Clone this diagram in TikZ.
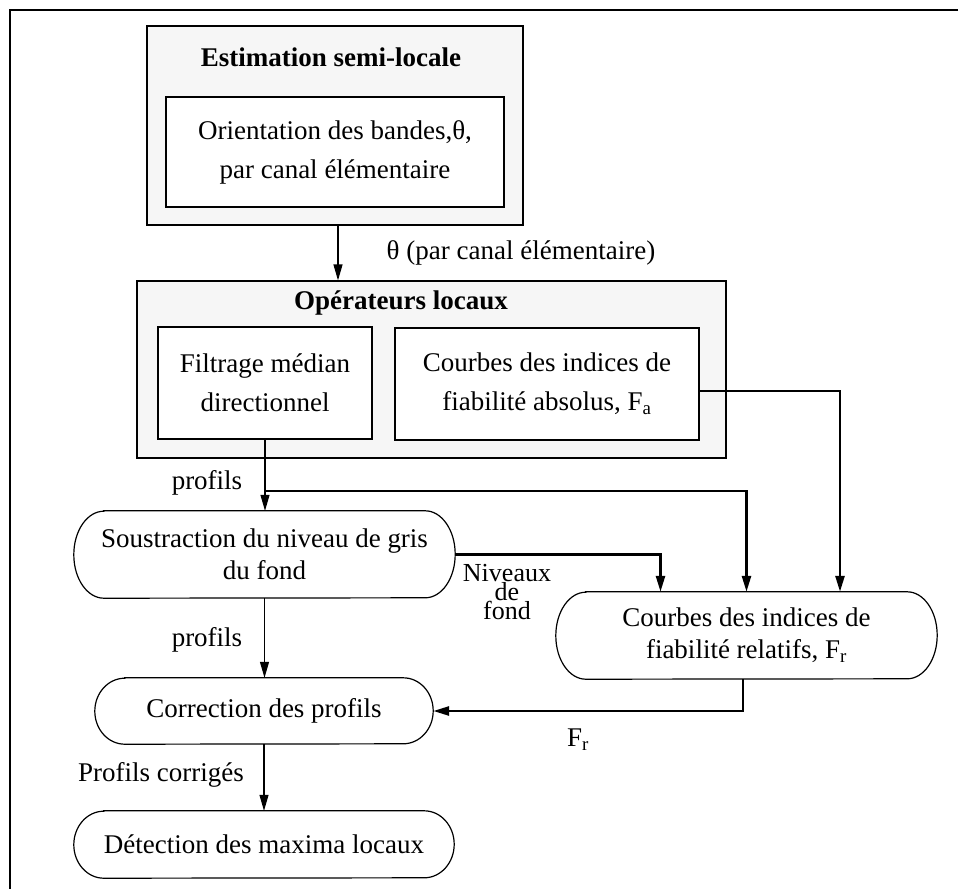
\documentclass[tikz,border=0pt]{standalone}
\usepackage{fontspec}
\setmainfont{Liberation Serif}
\usetikzlibrary{arrows.meta,calc}
\definecolor{boxgray}{RGB}{246,246,246}
\newcommand\stadiumoutline[3]{%
  \draw[line width=1.2pt] ([xshift=#2]#1.north west) -- ([xshift=-#2]#1.north east)
    arc[start angle=90,end angle=-90,x radius=#2,y radius=#3]
    -- ([xshift=#2]#1.south west)
    arc[start angle=-90,end angle=-270,x radius=#2,y radius=#3] -- cycle;}
\tikzset{
  outerbox/.style={draw, line width=1.2pt, fill=boxgray, inner sep=0pt},
  innerbox/.style={draw, line width=1.2pt, fill=white, inner sep=0pt,
    font=\fontsize{27}{39}\selectfont, align=center},
  stadiumnode/.style={inner sep=0pt, font=\fontsize{27}{32}\selectfont, align=center},
  titletext/.style={inner sep=0pt, font=\bfseries\fontsize{27}{39}\selectfont},
  lbl/.style={inner sep=0pt, font=\fontsize{27}{39}\selectfont},
  thinarrow/.style={line width=1.2pt, -{Triangle[length=16pt,width=9pt]}},
  thickarrow/.style={line width=2.6pt, -{Triangle[length=16pt,width=9pt]}},
  thickline/.style={line width=2.6pt},
  frameline/.style={line width=1.3pt},
}
\begin{document}
\begin{tikzpicture}[x=1pt,y=-1pt]
\useasboundingbox (0,0) rectangle (959,889);
% frame
\coordinate (fr1) at (958,10);
\coordinate (fr2) at (10,10);
\coordinate (fr3) at (10,889);
\draw[frameline] (fr1) -- (fr2) -- (fr3);

% Estimation semi-locale
\node[outerbox, minimum width=376pt, minimum height=199pt] (E) at (335,125.5) {};
\node[titletext] (Et) at (331,57) {Estimation semi-locale};
\node[innerbox, minimum width=338pt, minimum height=110pt] (Ei) at (335,152)
  {Orientation des bandes,θ,\\par canal élémentaire};

% Operateurs locaux
\node[outerbox, minimum width=589pt, minimum height=177pt] (O) at (431.5,369.5) {};
\node[titletext] (Ot) at (401,303) {Opérateurs locaux};
\node[innerbox, minimum width=214pt, minimum height=112pt] (F) at (265,383)
  {Filtrage médian\\directionnel};
\node[innerbox, minimum width=304pt, minimum height=112pt] (C) at (547,384)
  {Courbes des indices de\\fiabilité absolus, F\textsubscript{a}};

% stadium nodes
\node[stadiumnode, minimum width=381pt, minimum height=87pt] (S) at (264.5,554.5)
  {Soustraction du niveau de gris\\du fond};
\stadiumoutline{S}{30pt}{43.5pt}
\node[stadiumnode, minimum width=381pt, minimum height=87pt] (R) at (746.5,635.5)
  {Courbes des indices de\\fiabilité relatifs, F\textsubscript{r}};
\stadiumoutline{R}{30pt}{43.5pt}
\node[stadiumnode, minimum width=338pt, minimum height=66pt] (Co) at (264,711)
  {Correction des profils};
\stadiumoutline{Co}{30pt}{33pt}
\node[stadiumnode, minimum width=380pt, minimum height=67pt] (D) at (264,844.5)
  {Détection des maxima locaux};
\stadiumoutline{D}{30pt}{33.5pt}

% connectors
\draw[thinarrow] ([xshift=3pt]E.south) -- ([xshift=3pt]E.south |- O.north);
\node[lbl] (lt) at (521,253) {θ (par canal élémentaire)};

\draw[thinarrow] (F.south) -- (F.south |- S.north);
\coordinate (pb) at (265,491);
\draw[thickarrow] (pb) -| (R.north);
\node[lbl] (lp1) at (207,483) {profils};

\draw[thickarrow] ([yshift=-7pt]C.east) -| ([xshift=93.5pt]R.north);

\draw[thickarrow] (S.east) -| ([xshift=-86pt]R.north);
\node[inner sep=0pt, font=\fontsize{26}{16}\selectfont, align=center] (ln) at (507,592)
  {Niveaux\\de\\fond};

\draw[thinarrow] (S.south) -- (S.south |- Co.north);
\node[lbl] (lp2) at (207,640) {profils};

\draw[thickarrow] ([xshift=-3.5pt]R.south) |- (Co.east);
\node[lbl] (lfr) at (578,740) {F\textsubscript{r}};

\draw[thinarrow] (Co.south) -- (Co.south |- D.north);
\node[lbl] (lpc) at (161,775) {Profils corrigés};
\end{tikzpicture}
\end{document}
